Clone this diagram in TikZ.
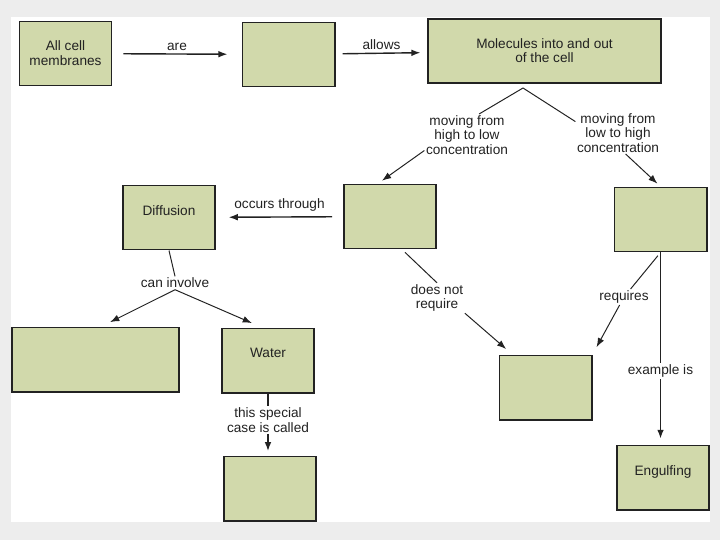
\documentclass[tikz,border=0pt]{standalone}
\usepackage{fontspec}
\setmainfont{Liberation Sans}
\usetikzlibrary{positioning,arrows.meta}
\definecolor{boxgreen}{RGB}{209,217,171}
\definecolor{inkgray}{RGB}{34,34,34}
\tikzset{
  cbox/.style={draw=inkgray, line width=1.4pt, fill=boxgreen,
    minimum width=2.3cm, minimum height=1.6cm, inner sep=0pt},
  ctext/.style={align=center, inner sep=0pt, text=inkgray},
  lbl/.style={align=center, inner sep=1pt, text=inkgray},
  link/.style={draw=inkgray, line width=0.7pt},
  arr/.style={link, -{Latex[length=6.5pt,width=4.8pt]}},
}
\begin{document}
\begin{tikzpicture}[x=0.025cm, y=-0.025cm, font=\fontsize{9.7}{10.2}\selectfont]
  % page and panel
  \fill[gray!14] (0,0) rectangle (720,540);
  \fill[white] (11,17) rectangle (710,522);
  % top row
  \node[cbox] (cell) at (65.5,53.5) {};
  \node[ctext, below=0.5cm of cell.north] (cellt) {All cell\\membranes};
  \node[cbox] (mem) at (288.5,54.5) {};
  \node[cbox, minimum width=5.8cm] (mol) at (544.5,51) {};
  \node[ctext, below=0.5cm of mol.north] (molt) {Molecules into and out\\of the cell};
  % middle row
  \node[cbox] (diff) at (169,217.5) {};
  \node[ctext, below=0.52cm of diff.north] (difft) {Diffusion};
  \node[cbox] (carrier) at (390,216.5) {};
  \node[cbox] (active) at (660.5,219.5) {};
  % lower rows
  \node[cbox, minimum width=4.15cm] (solute) at (95.5,359.5) {};
  \node[cbox] (water) at (268,360.5) {};
  \node[ctext, below=0.52cm of water.north] (watert) {Water};
  \node[cbox] (osmo) at (270,488.5) {};
  \node[cbox] (passive) at (545.5,387.5) {};
  \node[cbox] (engulf) at (663,477.5) {};
  \node[ctext, below=0.52cm of engulf.north] (engulft) {Engulfing};
  % link labels
  \node[lbl] (hl) at (467,135) {moving from\\high to low\\concentration};
  \node[lbl] (lh) at (618,133) {moving from\\low to high\\concentration};
  \node[lbl] (inv) at (175,283) {can involve};
  \node[lbl] (dnr) at (437,298) {does not\\require};
  \node[lbl] (req) at (624,297) {requires};
  \node[lbl] (ex) at (660.5,371) {example is};
  \node[lbl] (spc) at (268,420) {this special\\case is called};
  \coordinate (split) at (523,88);
  % connectors
  \draw[arr, line width=1pt, shorten <=7.8pt, shorten >=10pt] (cell) -- (mem)
    node[lbl, midway, above=1pt] (are) {are};
  \draw[arr, line width=1pt, shorten <=5pt, shorten >=5pt] (mem) -- (mol)
    node[lbl, midway, above=1pt] (allows) {allows};
  \draw[link] (split) -- (hl.60);
  \draw[arr, shorten >=3.5pt] (hl.200) -- (carrier.110);
  \draw[link] (split) -- (lh.165);
  \draw[arr, shorten >=3pt] (lh.-70) -- (active.north);
  \draw[arr, line width=1pt, shorten <=7.8pt, shorten >=9pt] (carrier) -- (diff)
    node[lbl, midway, above=2.5pt] (occ) {occurs through};
  \draw[link] (diff.south) -- (inv.north);
  \draw[arr, shorten >=7pt] (inv.south) -- (solute.80);
  \draw[arr, shorten >=8pt] (inv.south) -- (water.100);
  \draw[link, line width=1.3pt] (water.south) -- (spc.north);
  \draw[arr, line width=1.3pt, shorten >=3pt] (spc.south) -- (spc.south |- osmo.north);
  \draw[link, shorten <=3pt] (carrier.-70) -- (dnr.north);
  \draw[arr, shorten >=6pt] (dnr.south east) -- (passive.135);
  \draw[link, shorten <=3pt] (active.south) -- (req);
  \draw[arr, shorten >=6pt] (req) -- (passive.north east);
  \draw[link, line width=1.3pt] (active.south) -- (ex.north);
  \draw[arr, line width=1.3pt, shorten >=4pt] (ex.south) -- (ex.south |- engulf.north);
\end{tikzpicture}
\end{document}
